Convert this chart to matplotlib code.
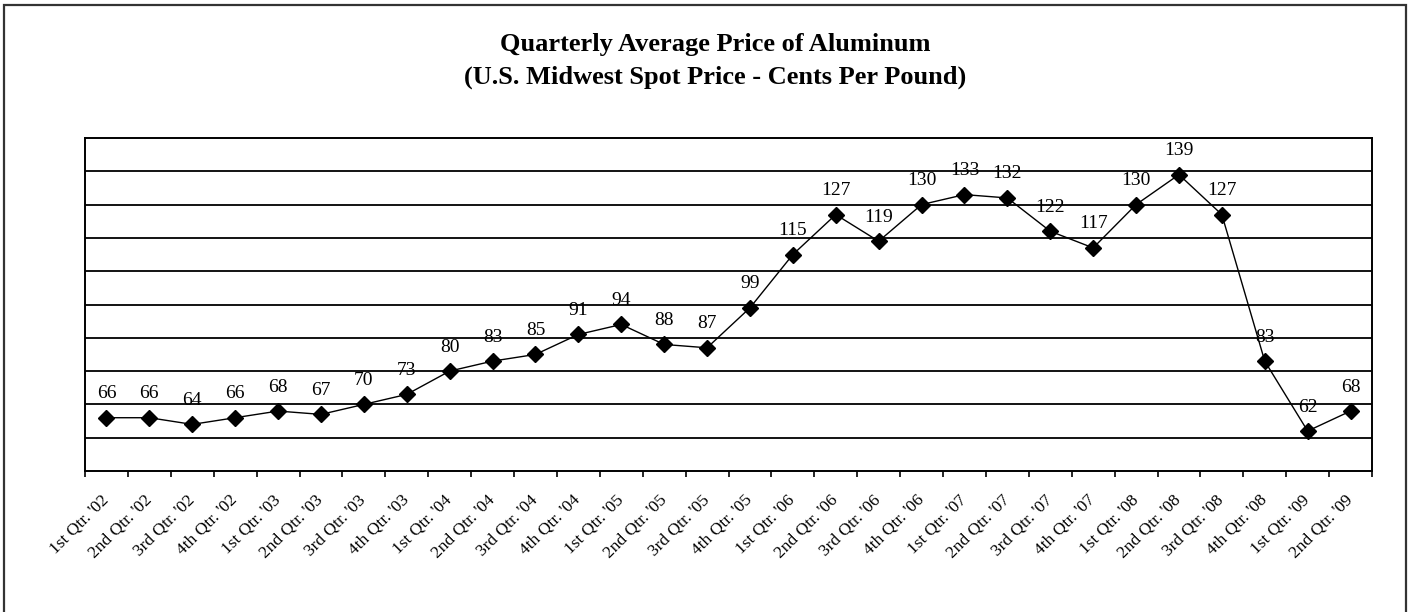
import numpy as np
import matplotlib
matplotlib.use('Agg')
import matplotlib.pyplot as plt
import matplotlib.transforms as mtransforms
from matplotlib.patches import Rectangle

# quarterly prices, cents per pound
quarters = ["1st Qtr. '02", "2nd Qtr. '02", "3rd Qtr. '02", "4th Qtr. '02",
            "1st Qtr. '03", "2nd Qtr. '03", "3rd Qtr. '03", "4th Qtr. '03",
            "1st Qtr. '04", "2nd Qtr. '04", "3rd Qtr. '04", "4th Qtr. '04",
            "1st Qtr. '05", "2nd Qtr. '05", "3rd Qtr. '05", "4th Qtr. '05",
            "1st Qtr. '06", "2nd Qtr. '06", "3rd Qtr. '06", "4th Qtr. '06",
            "1st Qtr. '07", "2nd Qtr. '07", "3rd Qtr. '07", "4th Qtr. '07",
            "1st Qtr. '08", "2nd Qtr. '08", "3rd Qtr. '08", "4th Qtr. '08",
            "1st Qtr. '09", "2nd Qtr. '09"]
prices = [66, 66, 64, 66, 68, 67, 70, 73, 80, 83, 85, 91, 94, 88, 87, 99,
          115, 127, 119, 130, 133, 132, 122, 117, 130, 139, 127, 83, 62, 68]

plt.rcParams['font.family'] = 'Liberation Serif'

W, H = 1408, 612
fig = plt.figure(figsize=(W / 100, H / 100), dpi=100)
ax = fig.add_axes([85 / W, 1 - 471 / H, (1372 - 85) / W, (471 - 138) / H])

x = np.arange(len(prices))
ax.plot(x, prices, color='black', lw=1.0, marker='D', markersize=8,
        markerfacecolor='black', markeredgecolor='black', zorder=3)

for xi, v in zip(x, prices):
    ax.annotate(str(v), (xi, v), xytext=(0, 14), textcoords='offset points',
                ha='center', va='baseline', fontsize=14)

ax.set_xlim(-0.5, len(prices) - 0.5)
ax.set_ylim(50, 150)
ax.set_yticks(np.arange(60, 150, 10))
ax.yaxis.grid(True, color='black', lw=1.3)
ax.tick_params(axis='y', left=False, labelleft=False)

ax.set_xticks(x)
ax.set_xticklabels(quarters, rotation=45, ha='right', rotation_mode='anchor',
                   fontsize=12.5)
ax.set_xticks(np.arange(-0.5, len(prices)), minor=True)
ax.tick_params(axis='x', which='major', length=0, pad=15)
ax.tick_params(axis='x', which='minor', length=4, width=1.2, direction='out')

# nudge the slanted labels a bit to the left
shift = mtransforms.ScaledTranslation(-6 / 100, 0, fig.dpi_scale_trans)
for lab in ax.get_xticklabels():
    lab.set_transform(lab.get_transform() + shift)

for s in ax.spines.values():
    s.set_linewidth(1.4)
    s.set_color('black')

fig.text(715 / W, 1 - 61 / H,
         'Quarterly Average Price of Aluminum\n(U.S. Midwest Spot Price - Cents Per Pound)',
         ha='center', va='center', fontsize=19, fontweight='bold', linespacing=1.5)

# outer frame (bottom edge is cut off in the original)
fig.add_artist(Rectangle((4 / W, -0.05), (1406 - 4) / W, 1.05 - 5 / H,
                         transform=fig.transFigure, fill=False,
                         edgecolor='#333333', lw=1.6))

fig.savefig('out.png', dpi=100)
